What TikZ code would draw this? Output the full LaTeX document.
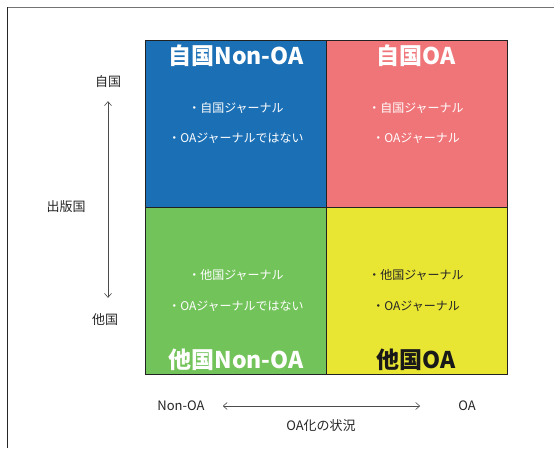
\documentclass[tikz,border=0pt]{standalone}
\usepackage{fontspec}
\setmainfont{Noto Sans CJK JP}
\usetikzlibrary{arrows.meta}
\definecolor{cblue}{HTML}{1B6FB5}
\definecolor{cpink}{HTML}{F07578}
\definecolor{cgreen}{HTML}{72C35A}
\definecolor{cyellow}{HTML}{E8E533}
\definecolor{cline}{HTML}{222222}
\tikzset{
  cell/.style={draw=cline, line width=1.3pt, minimum width=181pt, minimum height=167pt, inner sep=0pt, anchor=north west},
  title/.style={font=\fontsize{23}{26}\selectfont\bfseries, inner sep=0pt},
  bullet/.style={font=\fontsize{12}{14}\selectfont, inner sep=0pt},
  axislabel/.style={font=\fontsize{13}{15}\selectfont, text=black!85, inner sep=0pt},
  axisarrow/.style={draw=black!70, line width=0.6pt, {Straight Barb[length=4pt,width=7pt]}-{Straight Barb[length=4pt,width=7pt]}}
}
\begin{document}
\begin{tikzpicture}[x=1pt,y=-1pt]
\useasboundingbox (0,0) rectangle (554,450);
\fill[white] (0,0) rectangle (554,450);
% outer frame
\draw[draw=black!55, line width=1pt] (7,7.5) -- (554,7.5);
\draw[draw=black!85, line width=1pt] (7.5,7) -- (7.5,448);
% cells
\node[cell, fill=cblue] (tl) at (145,40) {};
\node[cell, fill=cpink] (tr) at (326,40) {};
\node[cell, fill=cgreen] (bl) at (145,207) {};
\node[cell, fill=cyellow] (br) at (326,207) {};
% titles
\node[title, text=white] (tlt) at (236,56) {自国Non-OA};
\node[title, text=white] (trt) at (416,56) {自国OA};
\node[title, text=white] (blt) at (236,360) {他国Non-OA};
\node[title, text=black!90] (brt) at (416,360) {他国OA};
% bullets
\node[bullet, text=white] (tl1) at (236,108) {・自国ジャーナル};
\node[bullet, text=white] (tl2) at (236,138) {・OAジャーナルではない};
\node[bullet, text=white] (tr1) at (416,108) {・自国ジャーナル};
\node[bullet, text=white] (tr2) at (416,138) {・OAジャーナル};
\node[bullet, text=white] (bl1) at (236,275) {・他国ジャーナル};
\node[bullet, text=white] (bl2) at (236,306) {・OAジャーナルではない};
\node[bullet, text=black!85] (br1) at (416,275) {・他国ジャーナル};
\node[bullet, text=black!85] (br2) at (416,306) {・OAジャーナル};
% vertical axis
\node[axislabel] (ytop) at (108,82) {自国};
\node[axislabel] (ybot) at (105,320) {他国};
\node[axislabel] (yname) at (66,207) {出版国};
\draw[axisarrow] ([yshift=-13pt]ytop.south) -- ([yshift=16pt]ytop.south |- ybot.north);
% horizontal axis
\node[axislabel] (xleft) at (181,406) {Non-OA};
\node[axislabel] (xright) at (467,406) {OA};
\node[axislabel] (xname) at (321,426) {OA化の状況};
\draw[axisarrow] ([xshift=18pt]xleft.east) -- ([xshift=-38pt]xright.west);
\end{tikzpicture}
\end{document}
